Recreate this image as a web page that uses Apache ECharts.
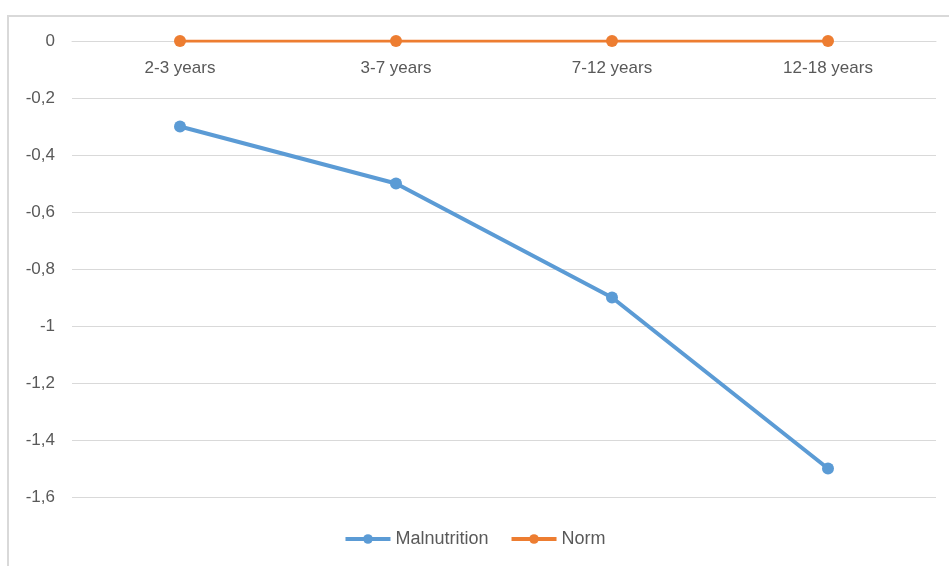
<!DOCTYPE html>
<html>
<head>
<meta charset="utf-8">
<script src="https://cdn.jsdelivr.net/npm/echarts@6/dist/echarts.min.js"></script>
<style>html,body{margin:0;padding:0;background:#fff;}#c{width:949px;height:566px;}</style>
</head>
<body>
<div id="c"></div>
<script>
const categories = ['2-3 years', '3-7 years', '7-12 years', '12-18 years'];
const malnutrition = [-0.3, -0.5, -0.9, -1.5];
const norm = [0, 0, 0, 0];
const yMin = -1.6, yMax = 0, yStep = 0.2;

const chart = echarts.init(document.getElementById('c'), null, {renderer: 'canvas'});
const font = '"Liberation Sans", Arial, sans-serif';
chart.setOption({
  animation: false,
  backgroundColor: '#ffffff',
  textStyle: {fontFamily: font},
  graphic: [{
    type: 'rect',
    shape: {x: 8, y: 16, width: 1000, height: 1000},
    style: {fill: 'none', stroke: '#d9d9d9', lineWidth: 2},
    silent: true
  }],
  grid: {left: 72, right: 13, top: 41, bottom: 69, containLabel: false},
  legend: {
    top: 530,
    left: 'center',
    padding: 0,
    itemWidth: 45,
    itemHeight: 12,
    itemGap: 21,
    textStyle: {color: '#595959', fontSize: 18, fontFamily: font},
    data: [
      {name: 'Malnutrition', lineStyle: {width: 4}},
      {name: 'Norm', lineStyle: {width: 4}}
    ]
  },
  xAxis: {
    type: 'category',
    data: categories,
    position: 'top',
    boundaryGap: true,
    axisLine: {lineStyle: {color: '#d9d9d9', width: 1}},
    axisTick: {show: false},
    axisLabel: {inside: true, color: '#595959', fontSize: 17, margin: 19, fontFamily: font}
  },
  yAxis: {
    type: 'value',
    min: yMin, max: yMax, interval: yStep,
    axisLine: {show: false},
    axisTick: {show: false},
    splitLine: {lineStyle: {color: '#d9d9d9', width: 1}},
    axisLabel: {
      color: '#595959', fontSize: 17, margin: 17, fontFamily: font,
      formatter: v => {
        const r = Math.round(v * 10) / 10;
        return String(r === 0 ? 0 : r).replace('.', ',');
      }
    }
  },
  series: [
    {
      name: 'Malnutrition', type: 'line', data: malnutrition,
      symbol: 'circle', symbolSize: 12,
      lineStyle: {color: '#5b9bd5', width: 4},
      itemStyle: {color: '#5b9bd5'}
    },
    {
      name: 'Norm', type: 'line', data: norm,
      symbol: 'circle', symbolSize: 12,
      lineStyle: {color: '#ed7d31', width: 3},
      itemStyle: {color: '#ed7d31'}
    }
  ]
});
</script>
</body>
</html>
